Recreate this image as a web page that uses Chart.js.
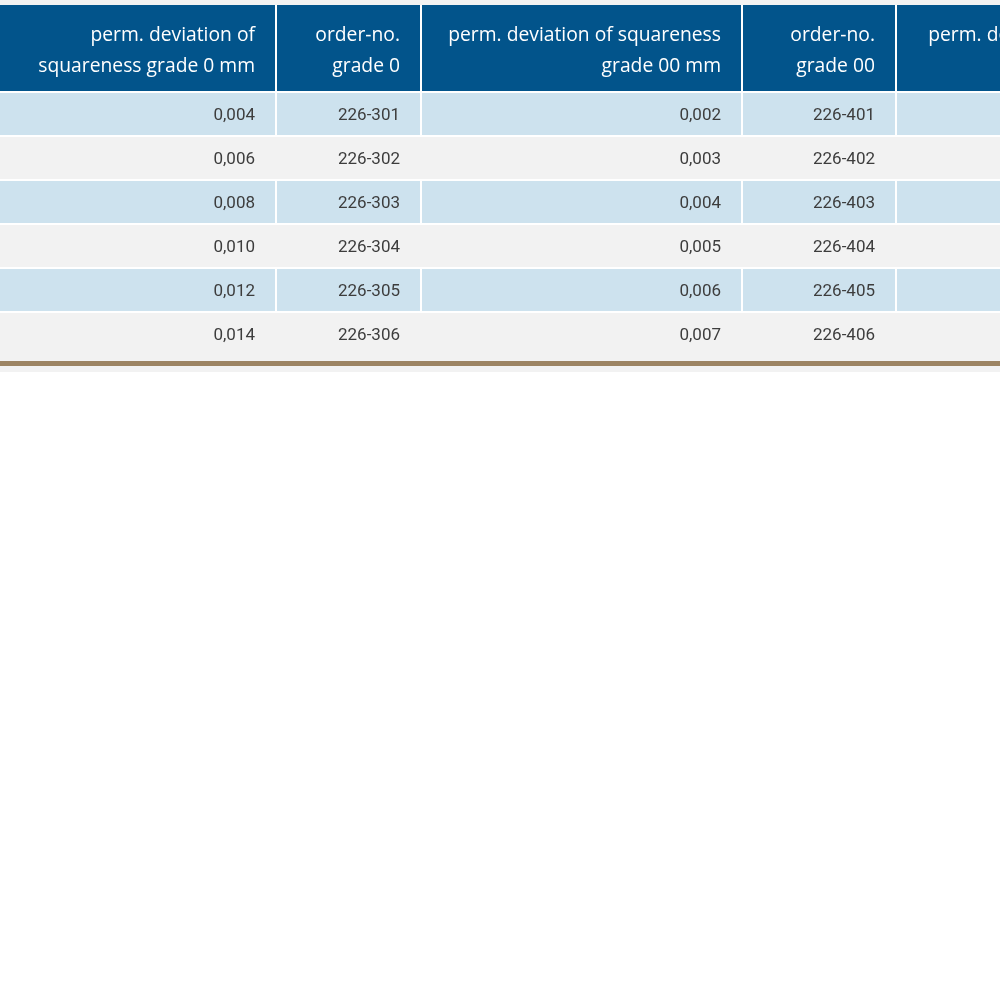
<!DOCTYPE html>
<html>
<head>
<meta charset="utf-8">
<script src="https://cdn.jsdelivr.net/npm/chart.js@4"></script>
<style>
    html, body { margin: 0; padding: 0; background: #ffffff; }
    #wrap { width: 1000px; height: 1000px; }
</style>
</head>
<body>
<div id="wrap"><canvas id="myChart" width="1000" height="1000"></canvas></div>
<script>
// column headers (two lines each)
const headers = [
    ['perm. deviation of', 'squareness grade 0 mm'],
    ['order-no.', 'grade 0'],
    ['perm. deviation of squareness', 'grade 00 mm'],
    ['order-no.', 'grade 00'],
    ['perm. deviation of squareness', 'grade 000 mm']
];
const deviationGrade0 = ['0,004', '0,006', '0,008', '0,010', '0,012', '0,014'];
const orderNoGrade0 = ['226-301', '226-302', '226-303', '226-304', '226-305', '226-306'];
const deviationGrade00 = ['0,002', '0,003', '0,004', '0,005', '0,006', '0,007'];
const orderNoGrade00 = ['226-401', '226-402', '226-403', '226-404', '226-405', '226-406'];
const deviationGrade000 = ['', '', '', '', '', ''];

const columns = [deviationGrade0, orderNoGrade0, deviationGrade00, orderNoGrade00, deviationGrade000];

// layout (table units map 1:1 onto the scales)
const colEdges = [0, 276, 421, 742, 896, 1222];
const headTop = 5, headBottom = 92, rowH = 44, lastRowExtra = 5;
const padRight = 21;

const tablePlugin = {
    id: 'table',
    beforeDatasetsDraw(chart) {
        const c = chart.ctx;
        const x = chart.scales.x, y = chart.scales.y;
        const px = v => x.getPixelForValue(v);
        const py = v => y.getPixelForValue(v);
        const rect = (x0, y0, x1, y1, color) => {
            c.fillStyle = color;
            c.fillRect(px(x0), py(y0), px(x1) - px(x0), py(y1) - py(y0));
        };
        const nRows = columns[0].length;
        const tableBottom = headBottom + nRows * rowH + lastRowExtra;

        c.save();
        // strip above header
        rect(0, 0, 1000, headTop, '#f2f2f2');

        // header cells
        for (let j = 0; j < headers.length; j++) {
            rect(colEdges[j] + (j ? 1 : 0), headTop, colEdges[j + 1] - 1, headBottom - 1, '#02548b');
        }
        // body cells: blue rows split by white lines, grey rows run across
        for (let i = 0; i < nRows; i++) {
            const top = headBottom + i * rowH + 1;
            const bottom = i === nRows - 1 ? tableBottom : headBottom + (i + 1) * rowH - 1;
            if (i % 2 === 0) {
                for (let j = 0; j < columns.length; j++) {
                    rect(colEdges[j] + (j ? 1 : 0), top, colEdges[j + 1] - 1, bottom, '#cde2ee');
                }
            } else {
                rect(0, top, colEdges[colEdges.length - 1], bottom, '#f2f2f2');
            }
        }
        // bottom rule
        rect(0, tableBottom, 1000, tableBottom + 5, '#9c8463');
        rect(0, tableBottom + 5, 1000, tableBottom + 11, '#f2f2f2');

        // header text
        c.textAlign = 'right';
        c.textBaseline = 'middle';
        c.fillStyle = '#ffffff';
        c.font = '19.3px "Open Sans"';
        const headMid = (headTop + headBottom) / 2;
        headers.forEach((lines, j) => {
            c.fillText(lines[0], px(colEdges[j + 1] - padRight), py(headMid - 13));
            c.fillText(lines[1], px(colEdges[j + 1] - padRight), py(headMid + 18));
        });

        // body text
        c.fillStyle = '#3d3d3d';
        c.font = '17px Roboto';
        columns.forEach((vals, j) => {
            vals.forEach((v, i) => {
                c.fillText(v, px(colEdges[j + 1] - padRight), py(headBottom + i * rowH + rowH / 2 + 2));
            });
        });
        c.restore();
    }
};

new Chart(document.getElementById('myChart'), {
    type: 'scatter',
    data: { datasets: [] },
    options: {
        responsive: false,
        animation: false,
        layout: { padding: 0 },
        plugins: {
            legend: { display: false },
            tooltip: { enabled: false }
        },
        scales: {
            x: { type: 'linear', min: 0, max: 1000, display: false },
            y: { type: 'linear', min: 0, max: 1000, reverse: true, display: false }
        }
    },
    plugins: [tablePlugin]
});
</script>
</body>
</html>
